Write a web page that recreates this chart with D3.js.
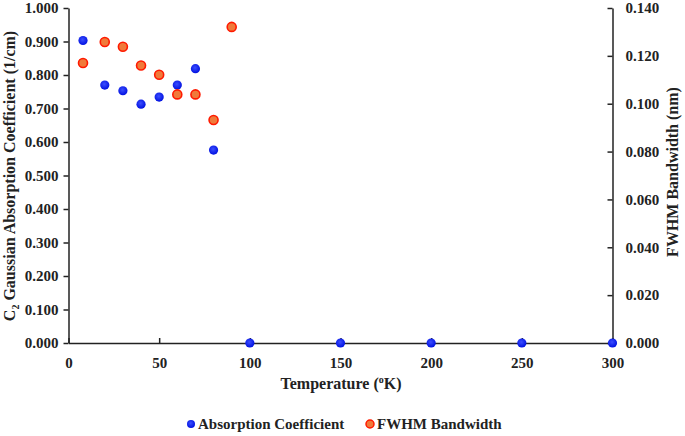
<!DOCTYPE html>
<html><head><meta charset="utf-8">
<script src="https://cdn.jsdelivr.net/npm/d3@7"></script>
<style>body{margin:0;background:#fff}</style>
</head><body>
<script>
const absTemps = [8, 20, 30, 40, 50, 60, 70, 80, 100, 150, 200, 250, 300];
const absValues = [0.903, 0.770, 0.753, 0.713, 0.734, 0.770, 0.819, 0.576, 0, 0, 0, 0, 0];
const fwhmTemps = [8, 20, 30, 40, 50, 60, 70, 80, 90];
const fwhmValues = [0.117, 0.1258, 0.1238, 0.116, 0.1121, 0.1039, 0.1039, 0.0932, 0.1321];
const xTicks = [0, 50, 100, 150, 200, 250, 300];
const leftTicks = [0, 0.1, 0.2, 0.3, 0.4, 0.5, 0.6, 0.7, 0.8, 0.9, 1.0];
const rightTicks = [0, 0.02, 0.04, 0.06, 0.08, 0.1, 0.12, 0.14];

const W = 685, H = 436;
const L = 68.5, R = 612.5, T = 8, B = 343;
const font = "'Liberation Serif','Times New Roman',serif";
const svg = d3.select("body").append("svg").attr("width", W).attr("height", H)
  .style("font-family", font);

const x = d3.scaleLinear().domain([0, 300]).range([L, R]);
const yL = d3.scaleLinear().domain([0, 1]).range([B, T]);
const yR = d3.scaleLinear().domain([0, 0.14]).range([B, T]);

const styleAxis = g => {
  g.attr("font-family", font);
  g.selectAll("path,line").attr("stroke", "#222").attr("stroke-width", 1.5);
  g.selectAll("text").attr("font-family", font).attr("font-weight", "bold")
    .attr("font-size", 15).attr("fill", "#222");
};

svg.append("g").attr("transform", `translate(${L},0)`)
  .call(d3.axisLeft(yL).tickValues(leftTicks).tickFormat(d3.format(".3f")).tickSizeInner(5).tickSizeOuter(0).tickPadding(5))
  .call(styleAxis);
svg.append("g").attr("transform", `translate(${R},0)`)
  .call(d3.axisRight(yR).tickValues(rightTicks).tickFormat(d3.format(".3f")).tickSizeInner(-5).tickSizeOuter(0).tickPadding(13))
  .call(styleAxis);
svg.append("g").attr("transform", `translate(0,${B})`)
  .call(d3.axisBottom(x).tickValues(xTicks).tickSizeInner(-5).tickSizeOuter(0).tickPadding(14))
  .call(styleAxis);

const defs = svg.append("defs");
const gb = defs.append("radialGradient").attr("id", "gb").attr("cx", "45%").attr("cy", "40%").attr("r", "60%");
gb.append("stop").attr("offset", "0%").attr("stop-color", "#3a4dff");
gb.append("stop").attr("offset", "100%").attr("stop-color", "#0010e0");

svg.append("g").selectAll("circle").data(absTemps.map((t, i) => [t, absValues[i]])).join("circle")
  .attr("cx", d => x(d[0])).attr("cy", d => yL(d[1])).attr("r", 4.6)
  .attr("fill", "url(#gb)");

svg.append("g").selectAll("circle").data(fwhmTemps.map((t, i) => [t, fwhmValues[i]])).join("circle")
  .attr("cx", d => x(d[0])).attr("cy", d => yR(d[1])).attr("r", 4.5)
  .attr("fill", "#f07a3a").attr("stroke", "#ff1a00").attr("stroke-width", 1.6);

// Axis titles
const lt = svg.append("text").attr("transform", `translate(15,176) rotate(-90)`)
  .attr("text-anchor", "middle").attr("font-weight", "bold").attr("font-size", 16).attr("fill", "#222");
lt.append("tspan").text("C");
lt.append("tspan").attr("font-size", 10).attr("dy", 4).text("2");
lt.append("tspan").attr("dy", -4).text(" Gaussian Absorption Coefficient (1/cm)");

svg.append("text").attr("transform", `translate(678,172) rotate(-90)`)
  .attr("text-anchor", "middle").attr("font-weight", "bold").attr("font-size", 16).attr("fill", "#222")
  .text("FWHM Bandwidth (nm)");

const xt = svg.append("text").attr("x", 341).attr("y", 389).attr("text-anchor", "middle")
  .attr("font-weight", "bold").attr("font-size", 16).attr("fill", "#222");
xt.append("tspan").text("Temperature (");
xt.append("tspan").attr("font-size", 10).attr("dy", -6).text("o");
xt.append("tspan").attr("dy", 6).text("K)");

// Legend
const lg = svg.append("g").attr("font-weight", "bold").attr("font-size", 15).attr("fill", "#222");
lg.append("circle").attr("cx", 191).attr("cy", 424).attr("r", 4).attr("fill", "url(#gb)");
lg.append("text").attr("x", 198).attr("y", 429).text("Absorption Coefficient");
lg.append("circle").attr("cx", 370).attr("cy", 424).attr("r", 4).attr("fill", "#f07a3a").attr("stroke", "#ff1a00").attr("stroke-width", 1.5);
lg.append("text").attr("x", 377).attr("y", 429).text("FWHM Bandwidth");
</script>
</body></html>
